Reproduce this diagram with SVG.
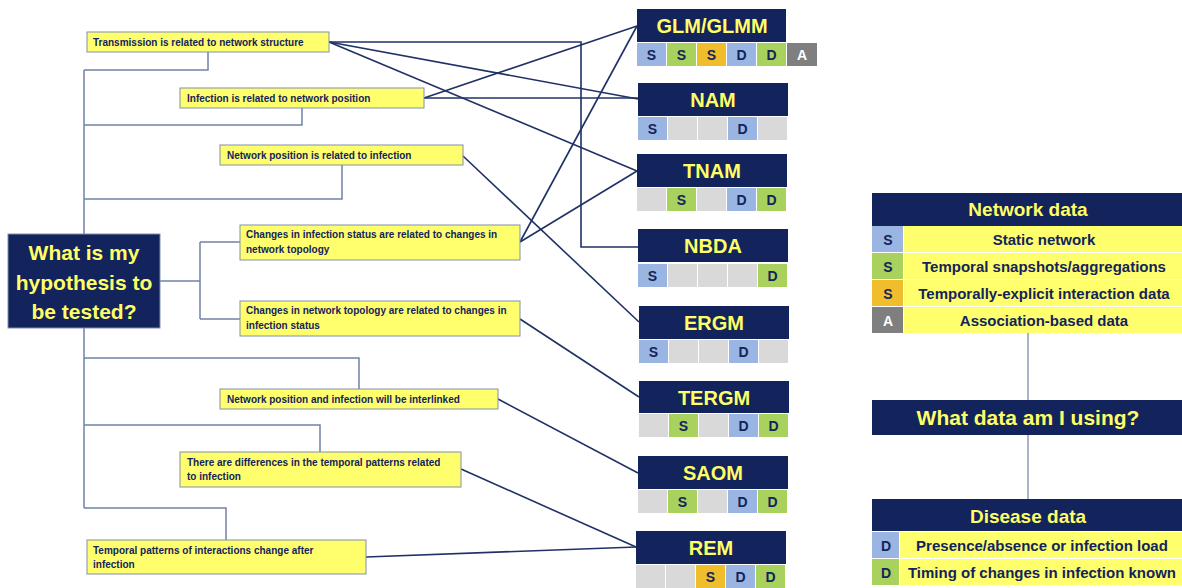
<svg xmlns="http://www.w3.org/2000/svg" width="1182" height="588" viewBox="0 0 1182 588">
<style>
text{font-family:"Liberation Sans",Arial,sans-serif;font-weight:bold}
.hyp rect{fill:#FFFF6E;stroke:#8090AE;stroke-width:1}
.hyp text{font-size:10px;fill:#13235B}
.tree{fill:none;stroke:#7082A8;stroke-width:1.5}
.con{fill:none;stroke:#1F3166;stroke-width:1.6}
.hdr{fill:#13235B}
.ht{font-size:20px;fill:#FFFF66;text-anchor:middle}
.ct{font-size:14px;fill:#13235B;text-anchor:middle}
.cb{fill:#9AB5E2}.cg{fill:#A8D15E}.co{fill:#F0BE2C}.ca{fill:#7F7F7F}.cn{fill:#D9D9D9}
.ly{fill:#FFFF6E}
.lt{font-size:15px;fill:#13235B;text-anchor:middle}
</style>
<rect width="1182" height="588" fill="#fff"/>

<g id="tree">
<path class="tree" d="M84,70 V508"/>
<path class="tree" d="M84,70 H208 V52"/>
<path class="tree" d="M84,125 H302 V108"/>
<path class="tree" d="M84,199 H342 V165"/>
<path class="tree" d="M160,281 H200 M200,242 V319 M200,242 H240 M200,319 H240"/>
<path class="tree" d="M84,358 H359 V389"/>
<path class="tree" d="M84,425 H320 V452"/>
<path class="tree" d="M84,508 H226 V540"/>
<path class="tree" d="M1028,333 V400 M1028,435 V499" style="stroke-width:1.2"/>
</g>

<g id="connectors">
<path class="con" d="M329,42 L638,99"/>
<path class="con" d="M329,42 L637,171"/>
<path class="con" d="M329,42 H581 V247 H638"/>
<path class="con" d="M424,98 L638,98"/>
<path class="con" d="M424,98 L637,26"/>
<path class="con" d="M463,156 L639,322"/>
<path class="con" d="M520,242 L637,26"/>
<path class="con" d="M520,242 L637,171"/>
<path class="con" d="M520,319 L639,397"/>
<path class="con" d="M498,399 L638,473"/>
<path class="con" d="M461,469 L636,547"/>
<path class="con" d="M366,557 L636,547"/>
</g>

<g id="question">
<rect x="8" y="234" width="152" height="94" fill="#13235B" stroke="#8090AE" stroke-width="1"/>
<text x="84" y="260" font-size="21" fill="#FFFF66" text-anchor="middle">What is my</text>
<text x="84" y="290" font-size="21" fill="#FFFF66" text-anchor="middle">hypothesis to</text>
<text x="84" y="319" font-size="21" fill="#FFFF66" text-anchor="middle">be tested?</text>
</g>

<g id="h1" class="hyp"><rect x="87" y="32" width="242" height="20"/><text x="93" y="46">Transmission is related to network structure</text></g>
<g id="h2" class="hyp"><rect x="180" y="88" width="244" height="20"/><text x="187" y="102">Infection is related to network position</text></g>
<g id="h3" class="hyp"><rect x="220" y="145" width="243" height="20"/><text x="227" y="159">Network position is related to infection</text></g>
<g id="h4" class="hyp"><rect x="240" y="225" width="280" height="35"/><text x="246" y="238">Changes in infection status are related to changes in</text><text x="246" y="253">network topology</text></g>
<g id="h5" class="hyp"><rect x="240" y="301" width="280" height="35"/><text x="246" y="314">Changes in network topology are related to changes in</text><text x="246" y="329">infection status</text></g>
<g id="h6" class="hyp"><rect x="220" y="389" width="278" height="20"/><text x="227" y="403">Network position and infection will be interlinked</text></g>
<g id="h7" class="hyp"><rect x="180" y="452" width="281" height="35"/><text x="187" y="466">There are differences in the temporal patterns related</text><text x="187" y="480">to infection</text></g>
<g id="h8" class="hyp"><rect x="87" y="540" width="279" height="34"/><text x="93" y="554">Temporal patterns of interactions change after</text><text x="93" y="568">infection</text></g>

<g id="m-glm" transform="translate(637,9)">
<rect class="hdr" width="149" height="33"/><text class="ht" x="75" y="24">GLM/GLMM</text>
<rect class="cb" x="0" y="34" width="29" height="23"/><text class="ct" x="14.5" y="51">S</text>
<rect class="cg" x="30" y="34" width="29" height="23"/><text class="ct" x="44.5" y="51">S</text>
<rect class="co" x="60" y="34" width="29" height="23"/><text class="ct" x="74.5" y="51">S</text>
<rect class="cb" x="90" y="34" width="29" height="23"/><text class="ct" x="104.5" y="51">D</text>
<rect class="cg" x="120" y="34" width="29" height="23"/><text class="ct" x="134.5" y="51">D</text>
<rect class="ca" x="150" y="34" width="30" height="23"/><text class="ct" x="165" y="51" fill="#fff" style="fill:#fff">A</text>
</g>

<g id="m-nam" transform="translate(638,83)">
<rect class="hdr" width="150" height="33"/><text class="ht" x="75" y="24">NAM</text>
<rect class="cb" x="0" y="34" width="29" height="23"/><text class="ct" x="14.5" y="51">S</text>
<rect class="cn" x="30" y="34" width="29" height="23"/>
<rect class="cn" x="60" y="34" width="29" height="23"/>
<rect class="cb" x="90" y="34" width="29" height="23"/><text class="ct" x="104.5" y="51">D</text>
<rect class="cn" x="120" y="34" width="29" height="23"/>
</g>

<g id="m-tnam" transform="translate(637,154)">
<rect class="hdr" width="150" height="33"/><text class="ht" x="75" y="24">TNAM</text>
<rect class="cn" x="0" y="34" width="29" height="23"/>
<rect class="cg" x="30" y="34" width="29" height="23"/><text class="ct" x="44.5" y="51">S</text>
<rect class="cn" x="60" y="34" width="29" height="23"/>
<rect class="cb" x="90" y="34" width="29" height="23"/><text class="ct" x="104.5" y="51">D</text>
<rect class="cg" x="120" y="34" width="29" height="23"/><text class="ct" x="134.5" y="51">D</text>
</g>

<g id="m-nbda" transform="translate(638,229)">
<rect class="hdr" width="150" height="33"/><text class="ht" x="75" y="24">NBDA</text>
<rect class="cb" x="0" y="35" width="29" height="23"/><text class="ct" x="14.5" y="52">S</text>
<rect class="cn" x="30" y="35" width="29" height="23"/>
<rect class="cn" x="60" y="35" width="29" height="23"/>
<rect class="cn" x="90" y="35" width="29" height="23"/>
<rect class="cg" x="120" y="35" width="29" height="23"/><text class="ct" x="134.5" y="52">D</text>
</g>

<g id="m-ergm" transform="translate(639,306)">
<rect class="hdr" width="150" height="33"/><text class="ht" x="75" y="24">ERGM</text>
<rect class="cb" x="0" y="34" width="29" height="23"/><text class="ct" x="14.5" y="51">S</text>
<rect class="cn" x="30" y="34" width="29" height="23"/>
<rect class="cn" x="60" y="34" width="29" height="23"/>
<rect class="cb" x="90" y="34" width="29" height="23"/><text class="ct" x="104.5" y="51">D</text>
<rect class="cn" x="120" y="34" width="29" height="23"/>
</g>

<g id="m-tergm" transform="translate(639,381)">
<rect class="hdr" width="150" height="32"/><text class="ht" x="75" y="24">TERGM</text>
<rect class="cn" x="0" y="33" width="29" height="23"/>
<rect class="cg" x="30" y="33" width="29" height="23"/><text class="ct" x="44.5" y="50">S</text>
<rect class="cn" x="60" y="33" width="29" height="23"/>
<rect class="cb" x="90" y="33" width="29" height="23"/><text class="ct" x="104.5" y="50">D</text>
<rect class="cg" x="120" y="33" width="29" height="23"/><text class="ct" x="134.5" y="50">D</text>
</g>

<g id="m-saom" transform="translate(638,456)">
<rect class="hdr" width="150" height="33"/><text class="ht" x="75" y="24">SAOM</text>
<rect class="cn" x="0" y="34" width="29" height="23"/>
<rect class="cg" x="30" y="34" width="29" height="23"/><text class="ct" x="44.5" y="51">S</text>
<rect class="cn" x="60" y="34" width="29" height="23"/>
<rect class="cb" x="90" y="34" width="29" height="23"/><text class="ct" x="104.5" y="51">D</text>
<rect class="cg" x="120" y="34" width="29" height="23"/><text class="ct" x="134.5" y="51">D</text>
</g>

<g id="m-rem" transform="translate(636,531)">
<rect class="hdr" width="150" height="33"/><text class="ht" x="75" y="24">REM</text>
<rect class="cn" x="0" y="34" width="29" height="23"/>
<rect class="cn" x="30" y="34" width="29" height="23"/>
<rect class="co" x="60" y="34" width="29" height="23"/><text class="ct" x="74.5" y="51">S</text>
<rect class="cb" x="90" y="34" width="29" height="23"/><text class="ct" x="104.5" y="51">D</text>
<rect class="cg" x="120" y="34" width="29" height="23"/><text class="ct" x="134.5" y="51">D</text>
</g>

<g id="network-data">
<rect class="hdr" x="872" y="193" width="312" height="33"/>
<text x="1028" y="216" font-size="19" fill="#FFFF66" text-anchor="middle">Network data</text>
<rect class="cb" x="872" y="226" width="31" height="26"/><rect class="ly" x="904" y="226" width="280" height="26"/>
<text class="ct" x="888" y="245">S</text><text class="lt" x="1044" y="245">Static network</text>
<rect class="cg" x="872" y="253" width="31" height="26"/><rect class="ly" x="904" y="253" width="280" height="26"/>
<text class="ct" x="888" y="272">S</text><text class="lt" x="1044" y="272">Temporal snapshots/aggregations</text>
<rect class="co" x="872" y="280" width="31" height="26"/><rect class="ly" x="904" y="280" width="280" height="26"/>
<text class="ct" x="888" y="299">S</text><text class="lt" x="1044" y="299">Temporally-explicit interaction data</text>
<rect class="ca" x="872" y="307" width="31" height="26"/><rect class="ly" x="904" y="307" width="280" height="26"/>
<text class="ct" x="888" y="326" style="fill:#fff">A</text><text class="lt" x="1044" y="326">Association-based data</text>
</g>

<g id="data-question">
<rect class="hdr" x="872" y="400" width="312" height="35"/>
<text x="1028" y="425" font-size="21" fill="#FFFF66" text-anchor="middle">What data am I using?</text>
</g>

<g id="disease-data">
<rect class="hdr" x="872" y="499" width="312" height="32"/>
<text x="1028" y="523" font-size="19" fill="#FFFF66" text-anchor="middle">Disease data</text>
<rect class="cb" x="872" y="532" width="27" height="26"/><rect class="ly" x="900" y="532" width="284" height="26"/>
<text class="ct" x="886" y="551">D</text><text class="lt" x="1042" y="551">Presence/absence or infection load</text>
<rect class="cg" x="872" y="559" width="27" height="26"/><rect class="ly" x="900" y="559" width="284" height="26"/>
<text class="ct" x="886" y="578">D</text><text class="lt" x="1042" y="578">Timing of changes in infection known</text>
</g>
</svg>
